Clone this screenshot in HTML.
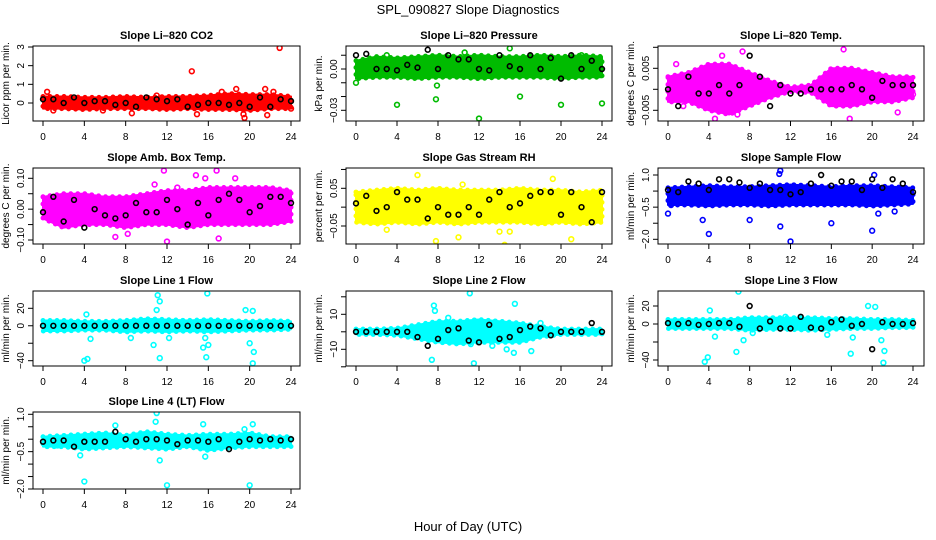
<!DOCTYPE html>
<html><head><meta charset="utf-8">
<style>
html,body{margin:0;padding:0;background:#fff;}
svg{display:block;font-family:"Liberation Sans","DejaVu Sans",sans-serif;}
</style></head>
<body>
<svg id="chart" width="936" height="540" viewBox="0 0 936 540">
<text x="468" y="14" text-anchor="middle" font-size="13">SPL_090827  Slope Diagnostics</text>
<text x="468" y="531" text-anchor="middle" font-size="13">Hour of Day (UTC)</text>
</svg>
<script>
// ---- data (hours 0..24) ----
const bandHours = [0,2,4,6,8,10,12,14,16,18,20,22,24];
const xTicks = [0,4,8,12,16,20,24];

const co2Lo = [-0.3,-0.3,-0.35,-0.3,-0.3,-0.3,-0.35,-0.3,-0.35,-0.35,-0.4,-0.3,-0.3];
const co2Hi = [0.35,0.35,0.3,0.3,0.35,0.3,0.35,0.35,0.4,0.5,0.45,0.45,0.35];
const co2Out = [[14.4,1.7],[22.9,2.95],[0.4,0.6],[8.6,-0.55],[14.9,-0.6],[19.5,-0.8],[19.4,-0.6],[21.7,-0.65],[18.7,0.75],[21.5,0.75],[17.3,0.6],[22.3,0.6],[1,-0.4],[5.8,-0.4],[24,-0.3],[11,0.4]];
const co2Black = [0.2,0.2,0.0,0.3,0.0,0.1,0.1,-0.1,0.0,-0.2,0.3,0.2,0.1,0.2,-0.2,-0.1,0.0,0.0,-0.1,0.0,-0.2,0.3,-0.2,0.2,0.1];

const presLo = [-0.007,-0.006,-0.006,-0.007,-0.006,-0.006,-0.007,-0.006,-0.006,-0.006,-0.007,-0.006,-0.006];
const presHi = [0.006,0.009,0.008,0.009,0.01,0.009,0.01,0.009,0.009,0.01,0.009,0.01,0.009];
const presOut = [[0,-0.01],[4,-0.026],[7.8,-0.022],[7.9,-0.012],[12,-0.036],[16,-0.02],[20,-0.026],[24,-0.025],[15,0.015],[10.6,0.012],[22,0.01],[3,0.01]];
const presBlack = [0.01,0.011,0.0,0.0,-0.001,0.003,0.001,0.014,0.0,0.01,0.007,0.007,0.0,-0.001,0.01,0.002,0.0,0.01,0.0,0.008,-0.007,0.01,0.0,0.006,0.0];

const ltLo = [-0.003,-0.003,-0.005,-0.006,-0.004,-0.002,-0.0005,-0.0008,-0.004,-0.004,-0.003,-0.003,-0.002];
const ltHi = [0.003,0.004,0.006,0.006,0.004,0.002,0.0005,0.001,0.005,0.005,0.004,0.003,0.003];
const ltOut = [[0.8,0.006],[5.3,0.008],[7.3,0.009],[16.9,0.011],[17.2,0.0095],[17.8,-0.007],[4.6,-0.007],[6.8,-0.006],[22.5,-0.0055],[1.5,-0.004],[24,-0.0012]];
const ltBlack = [0.0,-0.004,0.003,-0.001,-0.001,0.001,-0.001,0.001,0.008,0.003,-0.004,0.001,-0.001,-0.001,0.0,0.0,0.0,0.0,0.001,0.0,-0.002,0.002,0.001,0.001,0.001];

const abLo = [-0.03,-0.06,-0.05,-0.05,-0.06,-0.05,-0.05,-0.06,-0.05,-0.05,-0.05,-0.05,-0.04];
const abHi = [0.04,0.05,0.05,0.04,0.04,0.05,0.06,0.06,0.07,0.07,0.07,0.07,0.06];
const abOut = [[7,-0.09],[8.2,-0.08],[12,-0.105],[17,-0.095],[11.7,0.125],[16.8,0.125],[14.8,0.11],[15.7,0.1],[18.6,0.1],[10.8,0.08],[13,0.07]];
const abBlack = [-0.01,0.04,-0.04,0.03,-0.06,0.0,-0.02,-0.03,-0.02,0.02,-0.01,-0.01,0.03,0.0,-0.05,0.02,-0.02,0.03,0.05,0.03,-0.01,0.01,0.04,0.04,0.02];

const rhLo = [-0.04,-0.045,-0.04,-0.045,-0.04,-0.045,-0.04,-0.04,-0.04,-0.045,-0.04,-0.045,-0.04];
const rhHi = [0.04,0.045,0.05,0.045,0.05,0.045,0.045,0.045,0.05,0.045,0.045,0.04,0.045];
const rhOut = [[3,-0.06],[7.8,-0.09],[10,-0.08],[14.5,-0.1],[14,-0.065],[15,-0.065],[21,-0.085],[6,0.085],[19.2,0.075],[10.4,0.06]];
const rhBlack = [0.01,0.03,-0.01,0.0,0.04,0.02,0.02,-0.03,0.0,-0.02,-0.02,0.0,-0.02,0.02,0.04,0.0,0.01,0.03,0.04,0.04,-0.02,0.04,0.0,-0.04,0.04];

const sfLo = [-0.4,-0.4,-0.45,-0.4,-0.4,-0.45,-0.4,-0.4,-0.4,-0.4,-0.45,-0.4,-0.35];
const sfHi = [0.4,0.45,0.5,0.45,0.45,0.5,0.55,0.5,0.45,0.5,0.5,0.45,0.4];
const sfOut = [[0,-0.8],[4,-1.75],[3.4,-1.1],[8,-1.1],[11,-1.4],[12,-2.1],[16,-1.25],[20,-1.6],[20.6,-0.8],[22.2,-0.7],[11,1.2],[10.9,1.05],[20.2,1.0],[0.3,-0.4]];
const sfBlack = [0.3,0.2,0.7,0.6,0.3,0.8,0.8,0.65,0.4,0.6,0.3,0.3,0.1,0.2,0.6,1.0,0.5,0.7,0.7,0.3,0.8,0.4,0.8,0.6,0.2];

const l1Lo = [-6,-6,-5,-5,-7,-6,-7,-6,-7,-6,-5,-5,-4];
const l1Hi = [6,6,5,5,6,8,7,6,7,6,5,6,5];
const l1Out = [[4,-40],[4.3,-38],[4.2,13],[4.6,-15],[11,18],[11.1,35],[11.3,28],[11.3,-37],[10.7,-22],[12.2,-14],[15.5,-25],[15.8,-36],[15.9,37],[16,-22],[15.7,-14],[19.6,18],[20.3,17],[20,-20],[20.4,-30],[20.3,-43],[8.5,-14]];
const l1Black = [0,0,0,0,0,0,0,0,0,0,0,0,0,0,0,0,0,0,0,0,0,0,0,0,0];

const l2Lo = [-1.5,-1.5,-2,-4,-6,-7,-6,-6,-6,-3,-1.5,-1.5,-1.5];
const l2Hi = [1.5,1.5,2,4,6,6,7,6,5,3,1.5,1.5,1.5];
const l2Out = [[7.6,15],[7.4,-16],[7.7,12],[11.1,22],[11.5,-18],[15.5,16],[15.4,-12],[14.7,-10],[13.3,-8],[17.1,-11],[18,5],[11.2,-7],[9,8]];
const l2Black = [0,0,0,0,0,0,-3,-8,-4,1,2,-5,-6,4,-4,-3,1,3,2,-2,0,0,0,5,0];

const l3Lo = [-5,-5,-5,-5,-7,-6,-6,-7,-6,-5,-5,-4,-4];
const l3Hi = [5,5,5,5,7,7,7,7,6,6,5,5,4];
const l3Out = [[3.6,-42],[3.9,-37],[4.1,15],[4.6,-14],[6.7,-31],[6.9,36],[7.4,-18],[11.5,8],[15.6,-12],[17.9,-33],[18.1,-15],[19.6,20],[20.3,19],[20.9,-18],[21.2,-30],[21.1,-43],[8.3,-10]];
const l3Black = [1,0,1,-1,0,1,1,-3,20,-5,3,-5,-5,8,-4,-5,2,5,-2,0,-28,2,0,0,1];

const l4Lo = [-0.3,-0.3,-0.4,-0.35,-0.3,-0.35,-0.4,-0.3,-0.45,-0.35,-0.3,-0.3,-0.3];
const l4Hi = [0.1,0.15,0.2,0.25,0.15,0.3,0.2,0.15,0.2,0.2,0.25,0.1,0.1];
const l4Out = [[4,-1.7],[3.6,-0.65],[12,-1.85],[11.3,-0.85],[11,1.05],[10.9,0.7],[15.5,0.6],[15.7,-0.7],[20,-1.85],[20.3,0.6],[19.5,0.4],[7,0.55],[1.4,-0.25]];
const l4Black = [-0.1,-0.05,-0.05,-0.3,-0.1,-0.1,-0.1,0.3,0.0,-0.1,0.0,0.0,-0.05,-0.2,-0.05,-0.05,-0.1,0.0,-0.4,-0.1,0.0,-0.05,0.0,-0.05,0.0];

// ---- layout ----
const cols = [{l:33,r:300,x0:43,x1:291},{l:346,r:612,x0:356,x1:602},{l:658,r:924,x0:668,x1:913}];
const rows = [{t:46,b:121},{t:168,b:244},{t:291,b:366},{t:412,b:489}];

const panels = [
 {name:'co2',title:'Slope Li\u2013820 CO2',ylab:'Licor ppm per min.',c:0,r:0,color:'#ff0000',ticks:[0,1,2,3],labs:['0','1','2','3'],ref:[3,47,0,103],lo:co2Lo,hi:co2Hi,out:co2Out,blk:co2Black},
 {name:'pressure',title:'Slope Li\u2013820 Pressure',ylab:'kPa per min.',c:1,r:0,color:'#00bb00',ticks:[0.01,0,-0.01,-0.02,-0.03],labs:[null,'0.00',null,null,'\u22120.03'],ref:[0,69,-0.03,110.3],lo:presLo,hi:presHi,out:presOut,blk:presBlack},
 {name:'li820-temp',title:'Slope Li\u2013820 Temp.',ylab:'degrees C per min.',c:2,r:0,color:'#ff00ff',ticks:[0.01,0.005,0,-0.005],labs:[null,'0.005',null,'\u22120.005'],ref:[0.005,68.3,-0.005,110.3],lo:ltLo,hi:ltHi,out:ltOut,blk:ltBlack},
 {name:'amb-box-temp',title:'Slope Amb. Box Temp.',ylab:'degrees C per min.',c:0,r:1,color:'#ff00ff',ticks:[0.1,0.05,0,-0.05,-0.1],labs:['0.10',null,'0.00',null,'\u22120.10'],ref:[0.1,178.3,-0.1,240],lo:abLo,hi:abHi,out:abOut,blk:abBlack},
 {name:'gas-stream-rh',title:'Slope Gas Stream RH',ylab:'percent per min.',c:1,r:1,color:'#ffff00',ticks:[0.1,0.05,0,-0.05],labs:[null,'0.05',null,'\u22120.05'],ref:[0.05,188.3,-0.05,226],lo:rhLo,hi:rhHi,out:rhOut,blk:rhBlack},
 {name:'sample-flow',title:'Slope Sample Flow',ylab:'ml/min per min.',c:2,r:1,color:'#0000ff',ticks:[1,0.25,-0.5,-1.25,-2],labs:['1.0',null,'\u22120.5',null,'\u22122.0'],ref:[1,175,-2,239.3],lo:sfLo,hi:sfHi,out:sfOut,blk:sfBlack},
 {name:'line1-flow',title:'Slope Line 1 Flow',ylab:'ml/min per min.',c:0,r:2,color:'#00ffff',ticks:[20,0,-20,-40],labs:['20','0',null,'\u221240'],ref:[20,308.3,-40,360.7],lo:l1Lo,hi:l1Hi,out:l1Out,blk:l1Black},
 {name:'line2-flow',title:'Slope Line 2 Flow',ylab:'ml/min per min.',c:1,r:2,color:'#00ffff',ticks:[20,10,0,-10,-20],labs:[null,'10',null,'\u221210',null],ref:[10,314.3,-10,349.3],lo:l2Lo,hi:l2Hi,out:l2Out,blk:l2Black},
 {name:'line3-flow',title:'Slope Line 3 Flow',ylab:'ml/min per min.',c:2,r:2,color:'#00ffff',ticks:[20,0,-20,-40],labs:['20','0',null,'\u221240'],ref:[20,306,-40,360],lo:l3Lo,hi:l3Hi,out:l3Out,blk:l3Black},
 {name:'line4-flow',title:'Slope Line 4 (LT) Flow',ylab:'ml/min per min.',c:0,r:3,color:'#00ffff',ticks:[1,0.5,0,-0.5,-1,-1.5,-2],labs:['1.0',null,null,'\u22120.5',null,null,'\u22122.0'],ref:[1,414.3,-2,489],lo:l4Lo,hi:l4Hi,out:l4Out,blk:l4Black}
];

const NS='http://www.w3.org/2000/svg';
const svg=document.getElementById('chart');
function mk(tag,attrs,parent){const e=document.createElementNS(NS,tag);for(const k in attrs)e.setAttribute(k,attrs[k]);(parent||svg).appendChild(e);return e;}

panels.forEach(p=>{
  const C=cols[p.c],R=rows[p.r];
  const g=mk('g',{});
  
  
  const xs=h=>C.x0+(C.x1-C.x0)*h/24;
  const k=(p.ref[3]-p.ref[1])/(p.ref[2]-p.ref[0]);
  const ys=v=>p.ref[1]+(v-p.ref[0])*k;
  const clipId='clip-'+p.name;
  const cp=mk('clipPath',{id:clipId},g);
  mk('rect',{x:C.l,y:R.t,width:C.r-C.l,height:R.b-R.t},cp);
  const plot=mk('g',{'clip-path':'url(#'+clipId+')'},g);
  // band
  let pts=[];
  bandHours.forEach((h,i)=>pts.push(xs(h)+','+ys(p.hi[i])));
  for(let i=bandHours.length-1;i>=0;i--)pts.push(xs(bandHours[i])+','+ys(p.lo[i]));
  const band=mk('polygon',{points:pts.join(' '),fill:p.color,stroke:p.color,'stroke-width':2,'stroke-linejoin':'round'},plot);
  
  
  const edge=mk('polygon',{points:pts.join(' '),fill:'none',stroke:p.color,'stroke-width':5,'stroke-linecap':'round','stroke-dasharray':'0 7'},plot);
  
  
  // outliers
  p.out.forEach(o=>{
    const c=mk('circle',{cx:xs(o[0]),cy:ys(o[1]),r:2.4,fill:'none',stroke:p.color,'stroke-width':1.6},plot);
    
    
  });
  // black points (hourly)
  p.blk.forEach((v,i)=>{
    const c=mk('circle',{cx:xs(i),cy:ys(v),r:2.4,fill:'none',stroke:'#000','stroke-width':1.6},plot);
    
    
  });
  // box
  const box=mk('rect',{x:C.l,y:R.t,width:C.r-C.l,height:R.b-R.t,fill:'none',stroke:'#000','stroke-width':1},g);
  
  
  // x ticks
  xTicks.forEach(t=>{
    const x=xs(t);
    mk('line',{x1:x,y1:R.b,x2:x,y2:R.b+5,stroke:'#000','stroke-width':1},g);
    const tx=mk('text',{x:x,y:R.b+19,'text-anchor':'middle','font-size':10},g);
    tx.textContent=t;
    
    
  });
  // y ticks
  p.ticks.forEach((t,i)=>{
    const y=ys(t);
    mk('line',{x1:C.l-5,y1:y,x2:C.l,y2:y,stroke:'#000','stroke-width':1},g);
    if(p.labs[i]!==null){
      const tx=mk('text',{x:0,y:0,'text-anchor':'middle','font-size':10,transform:'translate('+(C.l-9)+','+y+') rotate(-90)'},g);
      tx.textContent=p.labs[i];
      
      
    }
  });
  // titles
  const tt=mk('text',{x:(C.l+C.r)/2,y:R.t-7,'text-anchor':'middle','font-size':11,'font-weight':'bold'},g);
  tt.textContent=p.title;
  
  
  const yl=mk('text',{x:0,y:0,'text-anchor':'middle','font-size':10,transform:'translate('+(C.l-24)+','+((R.t+R.b)/2)+') rotate(-90)'},g);
  yl.textContent=p.ylab;
  
  
});
</script>
</body></html>
